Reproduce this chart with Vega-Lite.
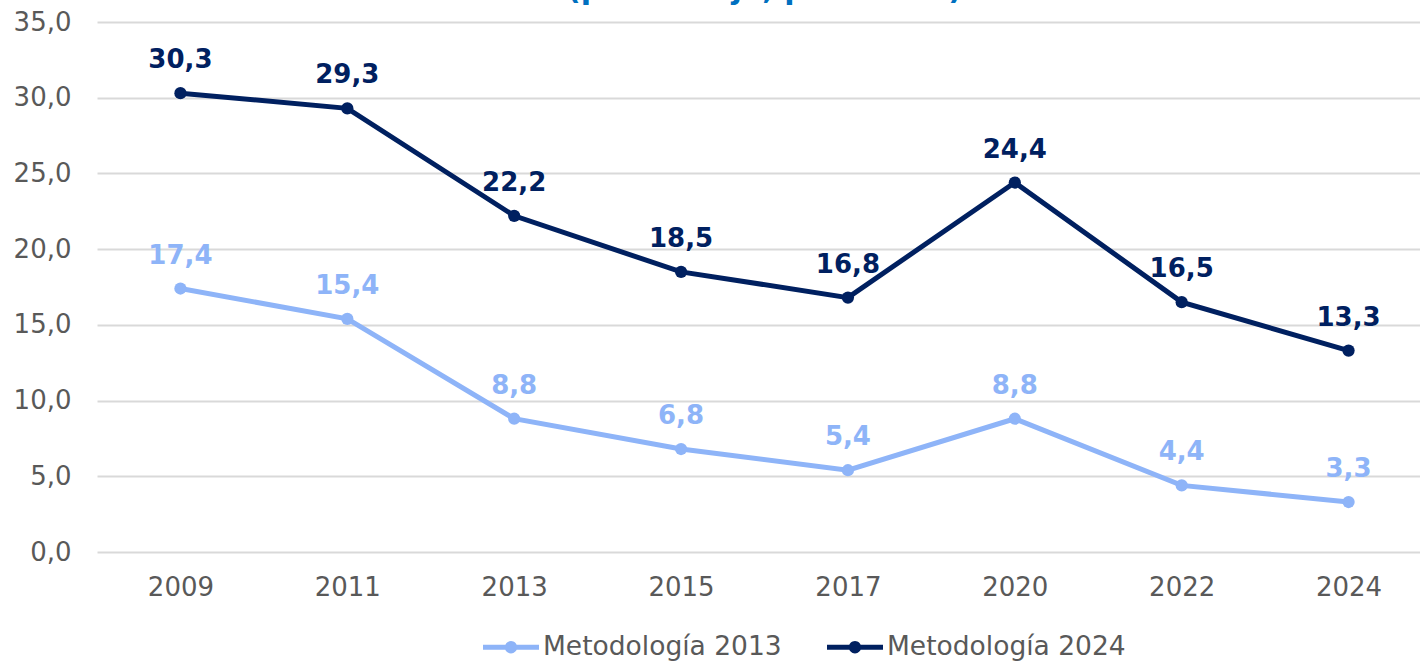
{
  "$schema": "https://vega.github.io/schema/vega-lite/v6.json",
  "width": 1335,
  "height": 530,
  "autosize": {"type": "none"},
  "padding": {"left": 97, "top": 22, "right": 0, "bottom": 109},
  "background": "white",
  "title": {
    "text": "(porcentaje, población)",
    "font": "DejaVu Sans",
    "fontSize": 30,
    "fontWeight": "bold",
    "color": "#0070C0",
    "anchor": "middle",
    "baseline": "alphabetic",
    "offset": -20
  },
  "config": {
    "locale": {"number": {"decimal": ",", "thousands": ".", "grouping": [3], "currency": ["", " €"]}},
    "view": {"stroke": null},
    "font": "DejaVu Sans"
  },
  "data": {
    "values": [
      {"anio": "2009", "serie": "Metodología 2013", "valor": 17.4},
      {"anio": "2011", "serie": "Metodología 2013", "valor": 15.4},
      {"anio": "2013", "serie": "Metodología 2013", "valor": 8.8},
      {"anio": "2015", "serie": "Metodología 2013", "valor": 6.8},
      {"anio": "2017", "serie": "Metodología 2013", "valor": 5.4},
      {"anio": "2020", "serie": "Metodología 2013", "valor": 8.8},
      {"anio": "2022", "serie": "Metodología 2013", "valor": 4.4},
      {"anio": "2024", "serie": "Metodología 2013", "valor": 3.3},
      {"anio": "2009", "serie": "Metodología 2024", "valor": 30.3},
      {"anio": "2011", "serie": "Metodología 2024", "valor": 29.3},
      {"anio": "2013", "serie": "Metodología 2024", "valor": 22.2},
      {"anio": "2015", "serie": "Metodología 2024", "valor": 18.5},
      {"anio": "2017", "serie": "Metodología 2024", "valor": 16.8},
      {"anio": "2020", "serie": "Metodología 2024", "valor": 24.4},
      {"anio": "2022", "serie": "Metodología 2024", "valor": 16.5},
      {"anio": "2024", "serie": "Metodología 2024", "valor": 13.3}
    ]
  },
  "encoding": {
    "x": {
      "field": "anio",
      "type": "ordinal",
      "scale": {"type": "point", "padding": 0.5},
      "axis": {
        "title": null,
        "labelAngle": 0,
        "domain": false,
        "ticks": false,
        "labelPadding": 22,
        "labelFontSize": 26,
        "labelColor": "#595959",
        "labelFont": "DejaVu Sans"
      }
    },
    "y": {
      "field": "valor",
      "type": "quantitative",
      "scale": {"domain": [0, 35], "nice": false},
      "axis": {
        "title": null,
        "values": [0, 5, 10, 15, 20, 25, 30, 35],
        "format": ".1f",
        "domain": false,
        "ticks": false,
        "labelPadding": 26,
        "labelFontSize": 26,
        "labelColor": "#595959",
        "labelFont": "DejaVu Sans",
        "gridColor": "#D9D9D9",
        "gridWidth": 2
      }
    },
    "color": {
      "field": "serie",
      "type": "nominal",
      "scale": {"domain": ["Metodología 2013", "Metodología 2024"], "range": ["#8EB4F8", "#002060"]},
      "legend": {
        "title": null,
        "orient": "none",
        "direction": "horizontal",
        "legendX": 386,
        "legendY": 597,
        "symbolType": "M-1,-0.09L1,-0.09L1,0.09L-1,0.09Z M0.22,0 A0.22,0.22 0 1,1 -0.22,0 A0.22,0.22 0 1,1 0.22,0 Z",
        "symbolSize": 3136,
        "symbolStrokeWidth": 0,
        "symbolOpacity": 1,
        "labelFontSize": 26.5,
        "labelColor": "#595959",
        "labelFont": "DejaVu Sans",
        "labelOffset": 4,
        "columnPadding": 45,
        "labelLimit": 400
      }
    }
  },
  "layer": [
    {
      "mark": {"type": "line", "strokeWidth": 5, "point": {"filled": true, "size": 150}}
    },
    {
      "mark": {"type": "text", "dy": -33, "fontSize": 26, "fontWeight": "bold", "font": "DejaVu Sans"},
      "encoding": {
        "text": {"field": "valor", "type": "quantitative", "format": ".1f"}
      }
    }
  ]
}
